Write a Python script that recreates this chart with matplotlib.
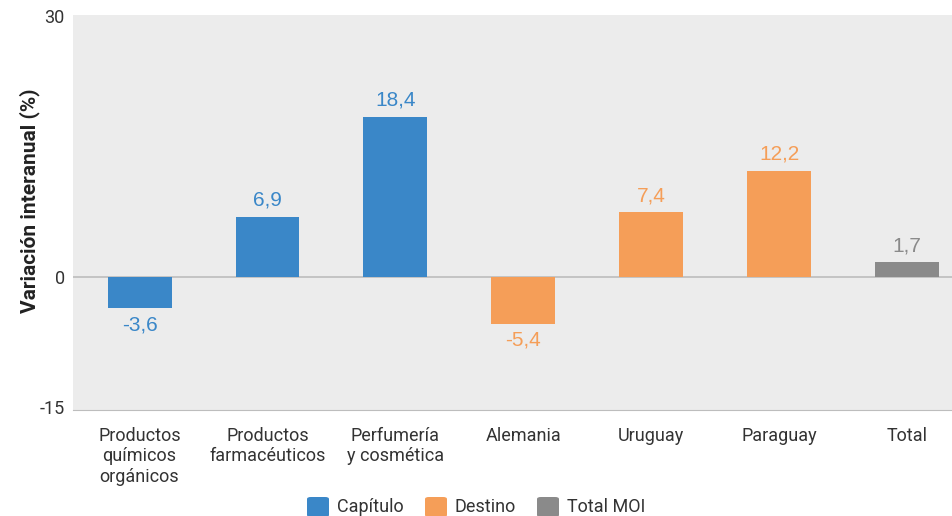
import matplotlib.pyplot as plt
from matplotlib.patches import FancyBboxPatch

# data
categorias = ["Productos\nquímicos\norgánicos", "Productos\nfarmacéuticos", "Perfumería\ny cosmética",
              "Alemania", "Uruguay", "Paraguay", "Total"]
valores = [-3.6, 6.9, 18.4, -5.4, 7.4, 12.2, 1.7]
grupos = ["Capítulo", "Capítulo", "Capítulo", "Destino", "Destino", "Destino", "Total MOI"]
colores = {"Capítulo": "#3a87c8", "Destino": "#f59e58", "Total MOI": "#8a8a8a"}

plt.rcParams['font.family'] = ['Roboto', 'DejaVu Sans']

fig = plt.figure(figsize=(9.52, 5.16), dpi=100)
ax = fig.add_axes([0.0767, 0.2054, 0.9233, 0.7656])
ax.set_facecolor("#ececec")

x = range(len(categorias))
cols = [colores[g] for g in grupos]
ax.bar(x, valores, width=0.5, color=cols, zorder=2)
ax.axhline(0, color="#bdbdbd", lw=1.2, zorder=1)

for i, v in enumerate(valores):
    txt = f"{v:.1f}".replace(".", ",")
    if v >= 0:
        ax.text(i, v + 0.8, txt, ha="center", va="bottom", color=cols[i], fontsize=15,
                family=['Liberation Sans', 'DejaVu Sans'])
    else:
        ax.text(i, v - 0.8, txt, ha="center", va="top", color=cols[i], fontsize=15,
                family=['Liberation Sans', 'DejaVu Sans'])

ax.set_ylim(-15.3, 30.1)
ax.set_xlim(-0.52, 6.35)
ax.set_yticks([30, 0, -15])
ax.set_yticklabels(["30", "0", "-15"])
ax.set_xticks(list(x))
ax.set_xticklabels(categorias, fontsize=13, color="#333333", linespacing=1.2)
ax.tick_params(axis="y", labelsize=13, labelcolor="#333333", length=0, pad=6)
ax.tick_params(axis="x", length=0, pad=12)
for s in ["top", "right", "left"]:
    ax.spines[s].set_visible(False)
ax.spines["bottom"].set_color("#bdbdbd")
ax.set_ylabel("Variación interanual (%)", fontsize=15, fontweight="bold", color="#222222")
ax.yaxis.set_label_coords(-0.037, 0.53)

# legend with rounded squares
leg_x = [307, 425, 537]
for (k, c), lx in zip(colores.items(), leg_x):
    fig.patches.append(FancyBboxPatch((lx / 952, (516 - 517) / 516), 22 / 952, 20 / 516,
                                      boxstyle="round,pad=0,rounding_size=0.004", transform=fig.transFigure,
                                      facecolor=c, edgecolor="none"))
    fig.text((lx + 30) / 952, (516 - 507) / 516, k, fontsize=13, color="#333333", va="center")

plt.savefig("out.png", dpi=100)
